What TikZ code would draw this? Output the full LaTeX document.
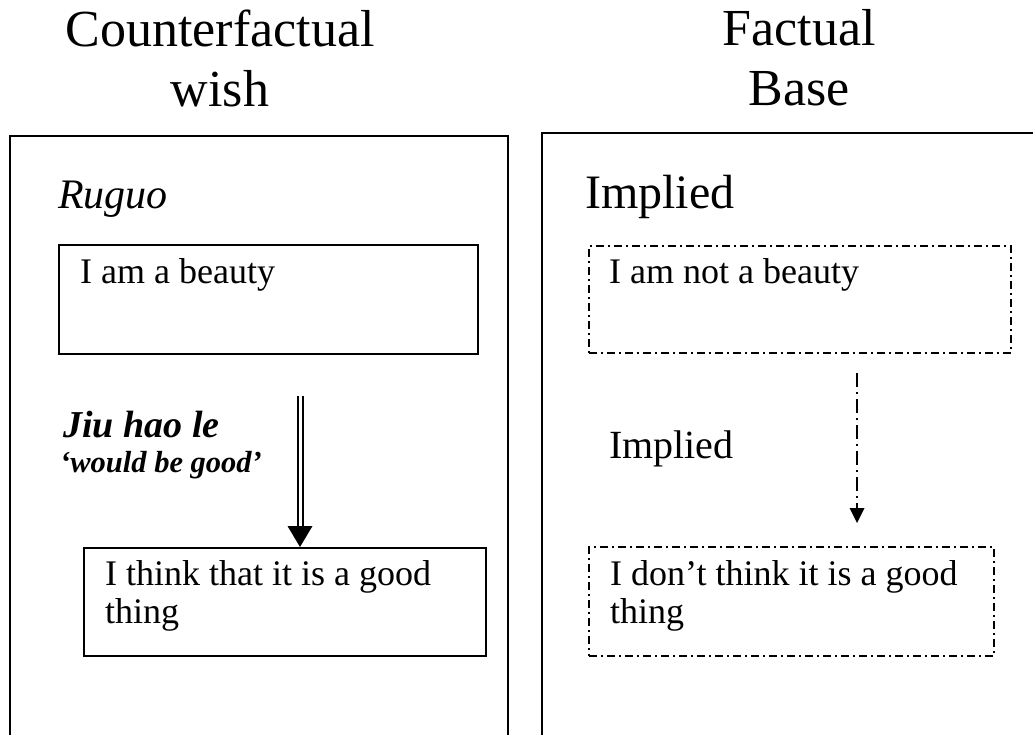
\documentclass[tikz,border=0pt]{standalone}
\usepackage{fontspec}
\setmainfont{Liberation Serif}
\begin{document}
\begin{tikzpicture}[x=1pt,y=-1pt,
  frame/.style={line width=2.4pt},
  plainbox/.style={draw, line width=2pt, rectangle, inner sep=0pt, anchor=north west},
  impliedbox/.style={plainbox, dash pattern=on 8pt off 4pt on 2pt off 4pt},
  boxtext/.style={anchor=base west, inner sep=0pt, align=left, font=\fontsize{36}{38}\selectfont},
  title/.style={anchor=base, inner sep=0pt, align=center, font=\fontsize{52}{60}\selectfont},
  heading/.style={anchor=base west, inner sep=0pt},
  gloss/.style={anchor=base west, inner sep=0pt, font=\bfseries\itshape},
  implarrow/.style={line width=2pt, dash pattern=on 14pt off 5pt on 2pt off 5pt}
]
\path[use as bounding box, clip] (0,0) rectangle (1033,734);

% column titles (base anchor sits on the last line)
\node[title] (tl) at (220,106) {Counterfactual\\wish};
\node[title] (tr) at (799,105) {Factual\\Base};

% open frames running off the page
\draw[frame] (10,760) -- (10,136) -- (508,136) -- (508,760);
\draw[frame] (542,760) -- (542,133) -- (1045,133);

% left column: counterfactual wish
\node[heading, font=\fontsize{42}{46}\selectfont\itshape] (ruguo) at (58,208) {Ruguo};
\node[plainbox, minimum width=419pt, minimum height=109pt] (b1) at (58,244) {};
\node[boxtext] (t1) at (80,283) {I am a beauty};
\node[plainbox, minimum width=402pt, minimum height=108pt] (b2) at (83,547) {};
\node[boxtext] (t2) at (105,623) {I think that it is a good\\thing};

\node[gloss, font=\fontsize{38}{40}\selectfont\bfseries\itshape] (jiu) at (63,437) {Jiu hao le};
\node[gloss, font=\fontsize{30.5}{32}\selectfont\bfseries\itshape] (wbg) at (60,472) {‘would be good’};

\coordinate (a1s) at (300,396);
\coordinate (a1e) at (a1s |- b2.north);
\draw[double, line width=2pt, double distance=3pt] (a1s) -- ([yshift=20pt]a1e);
\fill (a1e) -- ++(-12.5,-21) -- ++(25,0) -- cycle;

% right column: factual base
\node[heading, font=\fontsize{48}{52}\selectfont] (impl) at (585,208) {Implied};
\node[impliedbox, minimum width=422pt, minimum height=107pt] (d1) at (588,245) {};
\node[boxtext] (u1) at (609,283) {I am not a beauty};
\node[impliedbox, minimum width=405pt, minimum height=109pt] (d2) at (588,546) {};
\node[boxtext] (u2) at (610,623) {I don’t think it is a good\\thing};

\node[heading, font=\fontsize{40}{44}\selectfont] (impl2) at (609,458) {Implied};

\coordinate (a2s) at (857,373);
\coordinate (a2e) at (857,523);
\draw[implarrow] (a2s) -- ([yshift=14pt]a2e);
\fill (a2e) -- ++(-7.5,-15) -- ++(15,0) -- cycle;
\end{tikzpicture}
\end{document}
